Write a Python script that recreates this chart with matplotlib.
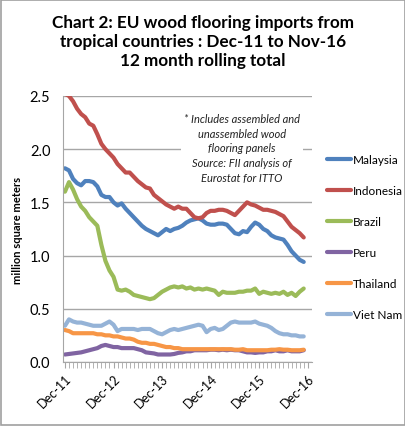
import numpy as np
import matplotlib.pyplot as plt

# Monthly 12-month rolling totals, Dec-11 .. Nov-16 (million m2)
months = np.arange(60)
tick_pos = [0, 12, 24, 36, 48, 60]
tick_labels = ['Dec-11', 'Dec-12', 'Dec-13', 'Dec-14', 'Dec-15', 'Dec-16']

malaysia = [1.82, 1.80, 1.72, 1.68, 1.66, 1.70, 1.70, 1.69, 1.65, 1.57,
            1.55, 1.55, 1.50, 1.47, 1.49, 1.44, 1.40, 1.36, 1.32, 1.28,
            1.25, 1.23, 1.21, 1.19, 1.22, 1.25, 1.23, 1.25, 1.26, 1.28,
            1.31, 1.33, 1.34, 1.35, 1.33, 1.30, 1.29, 1.29, 1.30, 1.30,
            1.29, 1.25, 1.21, 1.20, 1.23, 1.22, 1.27, 1.31, 1.29, 1.25,
            1.23, 1.19, 1.17, 1.16, 1.15, 1.10, 1.04, 1.00, 0.96, 0.94]
indonesia = [2.52, 2.50, 2.45, 2.38, 2.33, 2.30, 2.24, 2.22, 2.14, 2.05,
             2.00, 1.96, 1.92, 1.86, 1.82, 1.78, 1.78, 1.74, 1.70, 1.67,
             1.64, 1.63, 1.57, 1.54, 1.51, 1.48, 1.46, 1.44, 1.46, 1.44,
             1.44, 1.40, 1.36, 1.35, 1.36, 1.40, 1.42, 1.42, 1.43, 1.43,
             1.42, 1.40, 1.38, 1.42, 1.46, 1.50, 1.48, 1.47, 1.45, 1.43,
             1.43, 1.42, 1.41, 1.39, 1.37, 1.32, 1.27, 1.24, 1.21, 1.17]
brazil = [1.60, 1.69, 1.62, 1.53, 1.46, 1.42, 1.36, 1.32, 1.28, 1.10,
          0.95, 0.86, 0.80, 0.68, 0.67, 0.68, 0.66, 0.63, 0.62, 0.61,
          0.60, 0.59, 0.60, 0.63, 0.66, 0.68, 0.70, 0.71, 0.70, 0.71,
          0.69, 0.70, 0.68, 0.69, 0.68, 0.69, 0.68, 0.67, 0.63, 0.66,
          0.65, 0.65, 0.65, 0.66, 0.66, 0.67, 0.67, 0.69, 0.64, 0.66,
          0.65, 0.64, 0.65, 0.64, 0.66, 0.63, 0.65, 0.62, 0.66, 0.69]
peru = [0.07, 0.075, 0.08, 0.085, 0.09, 0.10, 0.11, 0.12, 0.13, 0.15,
        0.16, 0.15, 0.14, 0.14, 0.13, 0.13, 0.13, 0.13, 0.12, 0.11,
        0.09, 0.085, 0.08, 0.07, 0.07, 0.07, 0.07, 0.075, 0.085, 0.09,
        0.10, 0.10, 0.11, 0.11, 0.11, 0.11, 0.115, 0.115, 0.11, 0.115,
        0.11, 0.115, 0.11, 0.11, 0.10, 0.09, 0.09, 0.085, 0.09, 0.09,
        0.10, 0.10, 0.11, 0.10, 0.10, 0.11, 0.10, 0.10, 0.10, 0.11]
thailand = [0.30, 0.29, 0.27, 0.27, 0.27, 0.27, 0.27, 0.27, 0.26, 0.26,
            0.25, 0.25, 0.24, 0.24, 0.23, 0.22, 0.22, 0.21, 0.19, 0.18,
            0.18, 0.17, 0.17, 0.16, 0.15, 0.14, 0.14, 0.13, 0.13, 0.12,
            0.12, 0.12, 0.12, 0.12, 0.12, 0.12, 0.12, 0.12, 0.12, 0.12,
            0.12, 0.12, 0.115, 0.115, 0.12, 0.11, 0.11, 0.11, 0.11, 0.11,
            0.11, 0.115, 0.115, 0.12, 0.115, 0.115, 0.11, 0.11, 0.11, 0.115]
vietnam = [0.34, 0.40, 0.38, 0.37, 0.37, 0.36, 0.35, 0.34, 0.34, 0.34,
           0.36, 0.38, 0.35, 0.29, 0.31, 0.31, 0.31, 0.31, 0.30, 0.31,
           0.31, 0.31, 0.29, 0.27, 0.26, 0.28, 0.30, 0.31, 0.30, 0.31,
           0.32, 0.33, 0.34, 0.35, 0.34, 0.28, 0.31, 0.32, 0.30, 0.31,
           0.34, 0.37, 0.38, 0.37, 0.37, 0.37, 0.37, 0.38, 0.36, 0.35,
           0.34, 0.32, 0.29, 0.27, 0.26, 0.26, 0.25, 0.25, 0.24, 0.24]

series = [('Malaysia', malaysia, '#4F81BD'),
          ('Indonesia', indonesia, '#C0504D'),
          ('Brazil', brazil, '#9BBB59'),
          ('Peru', peru, '#8064A2'),
          ('Thailand', thailand, '#F79646'),
          ('Viet Nam', vietnam, '#95B3D7')]

plt.rcParams['font.family'] = ['Lato', 'DejaVu Sans']

fig = plt.figure(figsize=(4.06, 4.27), dpi=100)
fig.patches.append(plt.Rectangle((0.002, 0.002), 0.995, 0.995, transform=fig.transFigure,
                                 fill=False, edgecolor='#A0A0A0', linewidth=1.2))
ax = fig.add_axes([0.155, 0.15, 0.613, 0.623])

for name, vals, col in series:
    ax.plot(months, vals, color=col, linewidth=3, label=name, solid_capstyle='round')

ax.set_ylim(0, 2.5)
ax.set_xlim(-0.5, 61)
ax.set_yticks(np.arange(0, 2.51, 0.5))
ax.set_yticklabels(['%.1f' % v for v in np.arange(0, 2.51, 0.5)], fontsize=10.5)
ax.yaxis.grid(True, color='#A6A6A6', linewidth=1)
ax.set_axisbelow(True)
ax.tick_params(axis='y', length=0, pad=9)

ax.set_xticks(tick_pos)
ax.set_xticklabels(tick_labels, rotation=45, ha='right', rotation_mode='anchor', fontsize=9)
ax.set_xticks(np.arange(0, 61), minor=True)
ax.tick_params(axis='x', which='both', length=4, color='#A6A6A6', pad=3)

for s in ['top', 'right']:
    ax.spines[s].set_visible(False)
ax.spines['left'].set_color('#A6A6A6')
ax.spines['bottom'].set_color('#A6A6A6')

ax.set_ylabel('million square meters', fontsize=8, fontweight='bold', labelpad=5)

fig.text(0.5, 0.965, 'Chart 2: EU wood flooring imports from\ntropical countries : Dec-11 to Nov-16\n12 month rolling total',
         ha='center', va='top', fontsize=12.3, fontweight='bold', linespacing=1.22)

ax.text(0.72, 0.805, '* Includes assembled and\nunassembled wood\nflooring panels\nSource: FII analysis of\nEurostat for ITTO',
        transform=ax.transAxes, ha='center', va='center', fontsize=8, style='italic',
        linespacing=1.4, color='#222222',
        bbox=dict(facecolor='white', edgecolor='none', pad=2))

ax.legend(loc='center left', bbox_to_anchor=(1.02, 0.47), frameon=False, fontsize=8.5,
          handlelength=2.0, handletextpad=0.15, labelspacing=1.7)

fig.savefig('out.png', dpi=100)
